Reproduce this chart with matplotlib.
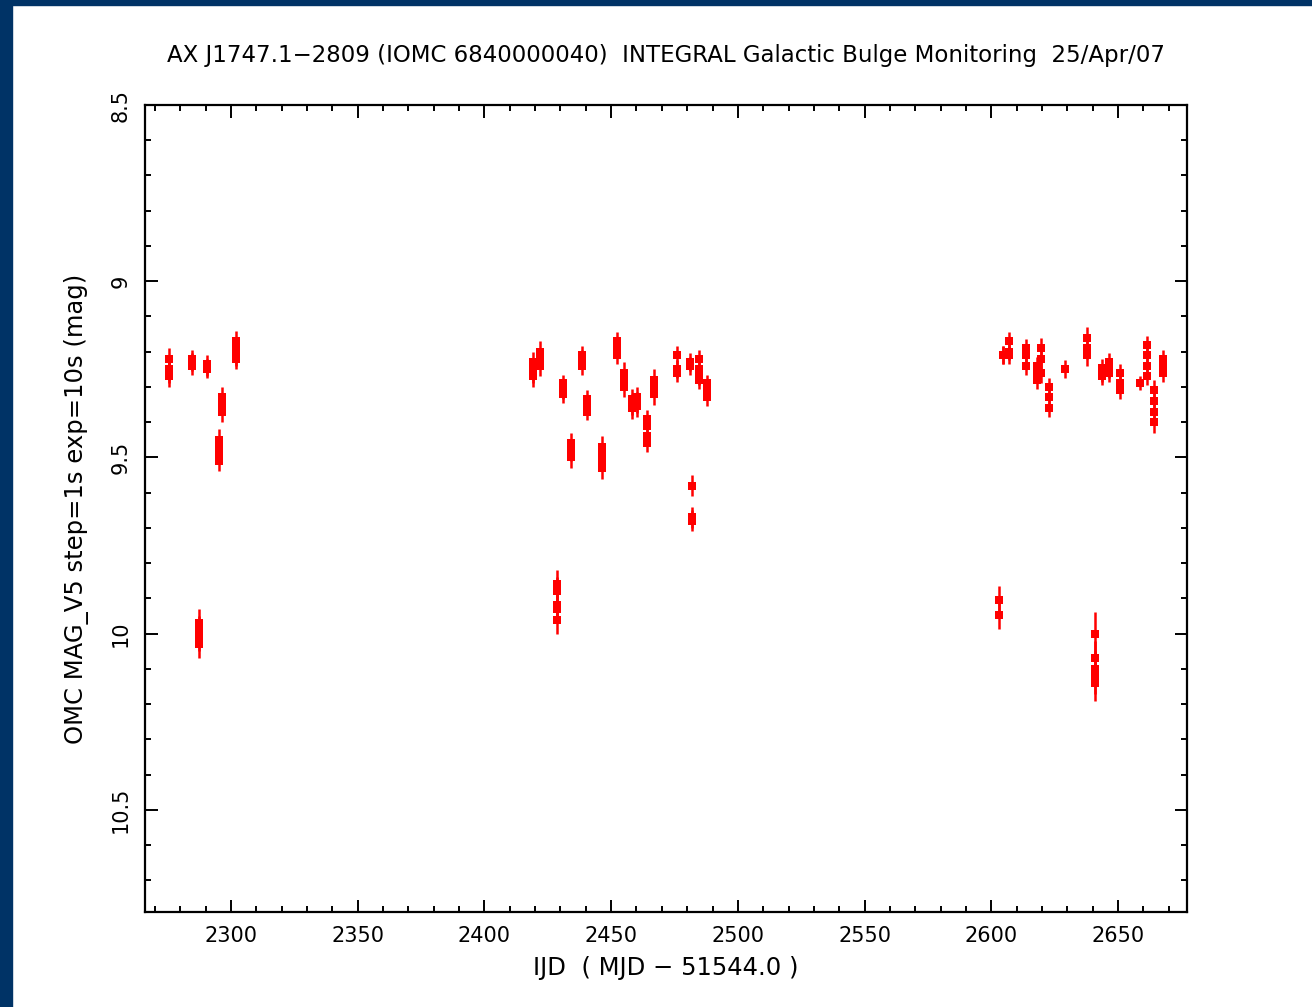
import numpy as np
from matplotlib import pyplot as plt
from matplotlib.patches import Rectangle
from matplotlib.ticker import MultipleLocator

# OMC light curve points: IJD, magnitude, 1-sigma error
day = [2275.5, 2275.5, 2275.5, 2275.5,
       2284.6, 2284.6, 2284.6,
       2287.6, 2287.6, 2287.6, 2287.6,
       2290.5, 2290.5, 2290.5,
       2295.3, 2295.3, 2295.3, 2295.3,
       2296.5, 2296.5, 2296.5,
       2302.0, 2302.0, 2302.0, 2302.0,
       2419.2, 2419.2, 2419.2, 2419.2,
       2422.0, 2422.0, 2422.0,
       2428.6, 2428.6, 2428.6, 2428.6, 2428.6,
       2431.0, 2431.0, 2431.0,
       2434.2, 2434.2, 2434.2,
       2438.5, 2438.5, 2438.5,
       2440.5, 2440.5, 2440.5,
       2446.4, 2446.4, 2446.4, 2446.4,
       2452.3, 2452.3, 2452.3,
       2455.0, 2455.0, 2455.0,
       2458.2, 2458.2, 2458.2,
       2460.2, 2460.2, 2460.2,
       2464.2, 2464.2, 2464.2, 2464.2,
       2467.0, 2467.0, 2467.0,
       2476.0, 2476.0, 2476.0,
       2481.0, 2481.0,
       2482.0, 2482.0, 2482.0,
       2484.7, 2484.7, 2484.7, 2484.7,
       2487.8, 2487.8, 2487.8,
       2603.0, 2603.0,
       2604.6, 2604.6,
       2607.0, 2607.0, 2607.0,
       2613.7, 2613.7, 2613.7,
       2618.0, 2618.0, 2618.0,
       2619.7, 2619.7, 2619.7,
       2622.8, 2622.8, 2622.8,
       2629.0,
       2637.8, 2637.8, 2637.8,
       2641.0, 2641.0, 2641.0, 2641.0, 2641.0,
       2643.7, 2643.7, 2643.7,
       2646.5, 2646.5, 2646.5,
       2650.8, 2650.8, 2650.8,
       2658.7,
       2661.5, 2661.5, 2661.5, 2661.5,
       2664.2, 2664.2, 2664.2, 2664.2,
       2667.8, 2667.8, 2667.8]

mag = [9.22, 9.25, 9.26, 9.27,
       9.22, 9.23, 9.24,
       9.97, 9.99, 10.01, 10.03,
       9.235, 9.245, 9.25,
       9.45, 9.47, 9.49, 9.51,
       9.33, 9.35, 9.37,
       9.17, 9.19, 9.21, 9.22,
       9.23, 9.25, 9.26, 9.27,
       9.20, 9.22, 9.24,
       9.86, 9.88, 9.92, 9.93, 9.96,
       9.29, 9.31, 9.32,
       9.46, 9.48, 9.50,
       9.21, 9.22, 9.24,
       9.335, 9.35, 9.37,
       9.47, 9.49, 9.51, 9.53,
       9.17, 9.19, 9.21,
       9.26, 9.28, 9.30,
       9.335, 9.35, 9.36,
       9.33, 9.345, 9.355,
       9.39, 9.41, 9.44, 9.46,
       9.28, 9.30, 9.32,
       9.21, 9.25, 9.26,
       9.23, 9.24,
       9.58, 9.67, 9.68,
       9.22, 9.25, 9.27, 9.28,
       9.29, 9.31, 9.33,
       9.906, 9.946,
       9.21, 9.21,
       9.17, 9.20, 9.21,
       9.19, 9.21, 9.24,
       9.24, 9.26, 9.28,
       9.19, 9.22, 9.26,
       9.30, 9.33, 9.36,
       9.25,
       9.16, 9.19, 9.21,
       10.0, 10.07, 10.10, 10.12, 10.14,
       9.245, 9.26, 9.27,
       9.23, 9.25, 9.26,
       9.26, 9.29, 9.31,
       9.29,
       9.18, 9.21, 9.24, 9.27,
       9.31, 9.34, 9.37, 9.40,
       9.22, 9.24, 9.26]

mag_err = [0.03, 0.03, 0.03, 0.03,
           0.025, 0.025, 0.025,
           0.04, 0.04, 0.04, 0.04,
           0.025, 0.025, 0.025,
           0.03, 0.03, 0.03, 0.03,
           0.03, 0.03, 0.03,
           0.03, 0.03, 0.03, 0.03,
           0.03, 0.03, 0.03, 0.03,
           0.03, 0.03, 0.03,
           0.04, 0.04, 0.04, 0.04, 0.04,
           0.025, 0.025, 0.025,
           0.03, 0.03, 0.03,
           0.025, 0.025, 0.025,
           0.025, 0.025, 0.025,
           0.03, 0.03, 0.03, 0.03,
           0.025, 0.025, 0.025,
           0.03, 0.03, 0.03,
           0.03, 0.03, 0.03,
           0.03, 0.03, 0.03,
           0.025, 0.025, 0.025, 0.025,
           0.03, 0.03, 0.03,
           0.025, 0.025, 0.025,
           0.025, 0.025,
           0.03, 0.03, 0.03,
           0.025, 0.025, 0.025, 0.025,
           0.025, 0.025, 0.025,
           0.04, 0.04,
           0.025, 0.025,
           0.025, 0.025, 0.025,
           0.025, 0.025, 0.025,
           0.025, 0.025, 0.025,
           0.03, 0.03, 0.03,
           0.025, 0.025, 0.025,
           0.025,
           0.03, 0.03, 0.03,
           0.06, 0.05, 0.05, 0.05, 0.05,
           0.025, 0.025, 0.025,
           0.025, 0.025, 0.025,
           0.025, 0.025, 0.025,
           0.02,
           0.025, 0.025, 0.025, 0.025,
           0.03, 0.03, 0.03, 0.03,
           0.025, 0.025, 0.025]

x_ticks = [2300, 2350, 2400, 2450, 2500, 2550, 2600, 2650]
y_ticks = [8.5, 9, 9.5, 10, 10.5]

TITLE = 'AX J1747.1\u22122809 (IOMC 6840000040)  INTEGRAL Galactic Bulge Monitoring  25/Apr/07'
NAVY = '#003366'


def main():
    fig = plt.figure(figsize=(13.12, 10.07), dpi=100)
    fig.patch.set_facecolor('white')

    # navy page frame (top bar and left bar)
    fig.patches.append(Rectangle((0, 1 - 5 / 1007), 1, 5 / 1007, transform=fig.transFigure,
                                 color=NAVY, zorder=0))
    fig.patches.append(Rectangle((0, 0), 12 / 1312, 1, transform=fig.transFigure,
                                 color=NAVY, zorder=0))

    ax = fig.add_axes([145 / 1312, 1 - 912 / 1007, 1042 / 1312, 807 / 1007])

    ax.errorbar(day, mag, yerr=mag_err, fmt='s', color='red', ecolor='red',
                markersize=5.5, elinewidth=1.8, capsize=0, markeredgewidth=0)

    ax.set_xlim(2266.1, 2677.2)
    ax.set_ylim(10.79, 8.5)

    ax.set_xticks(x_ticks)
    ax.set_yticks(y_ticks)
    ax.set_yticklabels(['8.5', '9', '9.5', '10', '10.5'], rotation=90, va='center')
    ax.xaxis.set_minor_locator(MultipleLocator(10))
    ax.yaxis.set_minor_locator(MultipleLocator(0.1))

    ax.tick_params(which='both', direction='in', top=True, right=True, width=1.4, colors='black')
    ax.tick_params(which='major', length=9, labelsize=15, pad=10)
    ax.tick_params(which='minor', length=4)
    for sp in ax.spines.values():
        sp.set_linewidth(1.6)

    ax.set_title(TITLE, fontsize=16.5, pad=31)
    ax.set_xlabel('IJD  ( MJD \u2212 51544.0 )', fontsize=17.5, labelpad=7)
    ax.set_ylabel('OMC MAG_V5 step=1s exp=10s (mag)', fontsize=17.5, labelpad=16)

    fig.savefig('out.png', dpi=100)


if __name__ == '__main__':
    main()
